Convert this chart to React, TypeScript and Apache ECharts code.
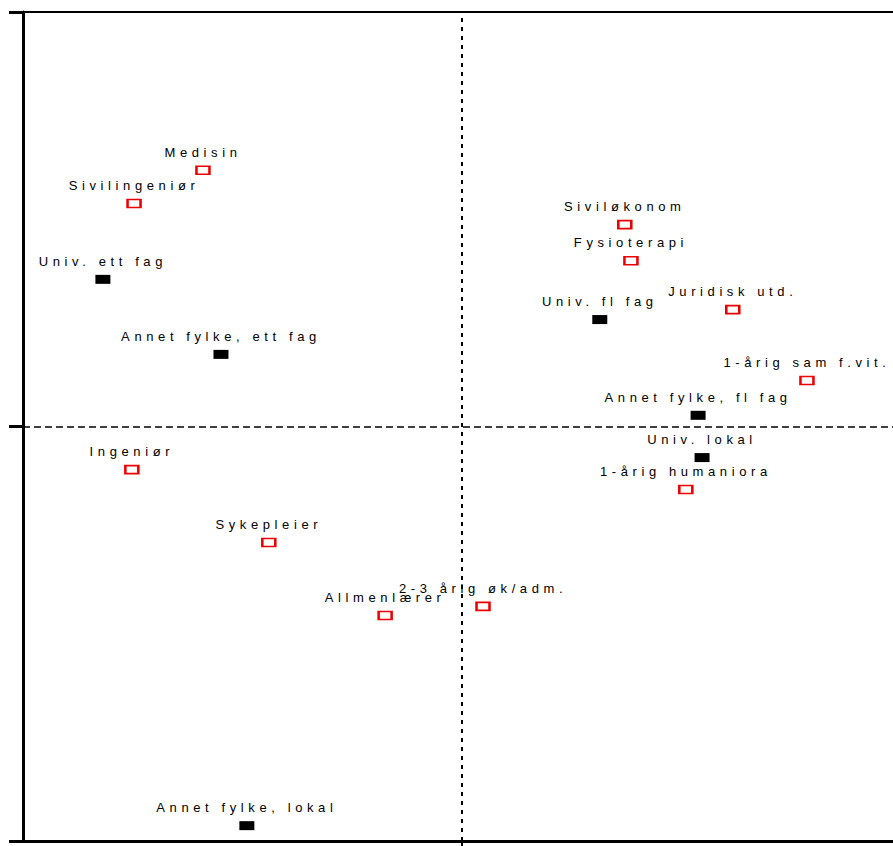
import React, { useEffect, useRef } from "react";
import * as echarts from "echarts";

// Education types (red hollow markers)
const eduNames = [
  "Medisin",
  "Sivilingeniør",
  "Siviløkonom",
  "Fysioterapi",
  "Juridisk utd.",
  "1-årig sam f.vit.",
  "Ingeniør",
  "1-årig humaniora",
  "Sykepleier",
  "2-3 årig øk/adm.",
  "Allmenlærer",
];
const eduX = [-0.59, -0.747, 0.371, 0.385, 0.617, 0.786, -0.752, 0.51, -0.44, 0.048, -0.175];
const eduY = [0.618, 0.538, 0.487, 0.4, 0.282, 0.111, -0.104, -0.152, -0.28, -0.434, -0.456];

// Study place groups (black filled markers)
const grpNames = [
  "Univ. ett fag",
  "Annet fylke, ett fag",
  "Univ. fl fag",
  "Annet fylke, fl fag",
  "Univ. lokal",
  "Annet fylke, lokal",
];
const grpX = [-0.818, -0.549, 0.314, 0.538, 0.547, -0.49];
const grpY = [0.355, 0.174, 0.258, 0.027, -0.075, -0.963];

const labelStyle = {
  show: true,
  position: "top" as const,
  distance: 7,
  formatter: "{b}",
  color: "#000",
  fontSize: 13,
  fontFamily: "Liberation Sans, Arial, sans-serif",
};

export default function App() {
  const ref = useRef<HTMLDivElement>(null);

  useEffect(() => {
    if (!ref.current) return;
    const chart = echarts.init(ref.current, null, { renderer: "svg" });
    chart.setOption({
      animation: false,
      grid: { left: 23, right: 0, top: 12, bottom: 5 },
      xAxis: [
        {
          type: "value",
          min: -1,
          max: 0.982,
          axisLine: { show: true, onZero: false, lineStyle: { color: "#000", width: 3 } },
          axisTick: { show: true, customValues: [0], length: 5, lineStyle: { color: "#000", width: 2 } },
          axisLabel: { show: false },
          splitLine: { show: false },
        },
        {
          type: "value",
          position: "top",
          min: -1,
          max: 0.982,
          axisLine: { show: true, onZero: false, lineStyle: { color: "#000", width: 2 } },
          axisTick: { show: false },
          axisLabel: { show: false },
          splitLine: { show: false },
        },
      ],
      yAxis: {
        type: "value",
        min: -1,
        max: 1,
        interval: 1,
        axisLine: { show: true, onZero: false, lineStyle: { color: "#000", width: 3 } },
        axisTick: { show: true, length: 14, lineStyle: { color: "#000", width: 3 } },
        axisLabel: { show: false },
        splitLine: { show: false },
      },
      series: [
        {
          type: "scatter",
          symbol: "rect",
          symbolSize: [13, 8],
          itemStyle: { color: "#fff", borderColor: "#ee0000", borderWidth: 2, opacity: 1 },
          label: labelStyle,
          data: eduNames.map((n, i) => ({ name: n, value: [eduX[i], eduY[i]] })),
          markLine: {
            silent: true,
            symbol: ["none", "none"],
            label: { show: false },
            data: [
              { xAxis: 0, lineStyle: { color: "#000", width: 2, type: [4, 5] } },
              { yAxis: 0, lineStyle: { color: "#000", width: 1.5, type: [7, 4] } },
            ],
          },
        },
        {
          type: "scatter",
          symbol: "rect",
          symbolSize: [15, 9],
          itemStyle: { color: "#000", opacity: 1 },
          label: labelStyle,
          data: grpNames.map((n, i) => ({ name: n, value: [grpX[i], grpY[i]] })),
        },
      ],
    });
    return () => chart.dispose();
  }, []);

  return (
    <>
      <style>{`#chartbox svg text { letter-spacing: 4.6px; }`}</style>
      <div
        id="chartbox"
        ref={ref}
        style={{ position: "absolute", left: 0, top: 0, width: 893, height: 846, background: "#fff" }}
      />
    </>
  );
}
